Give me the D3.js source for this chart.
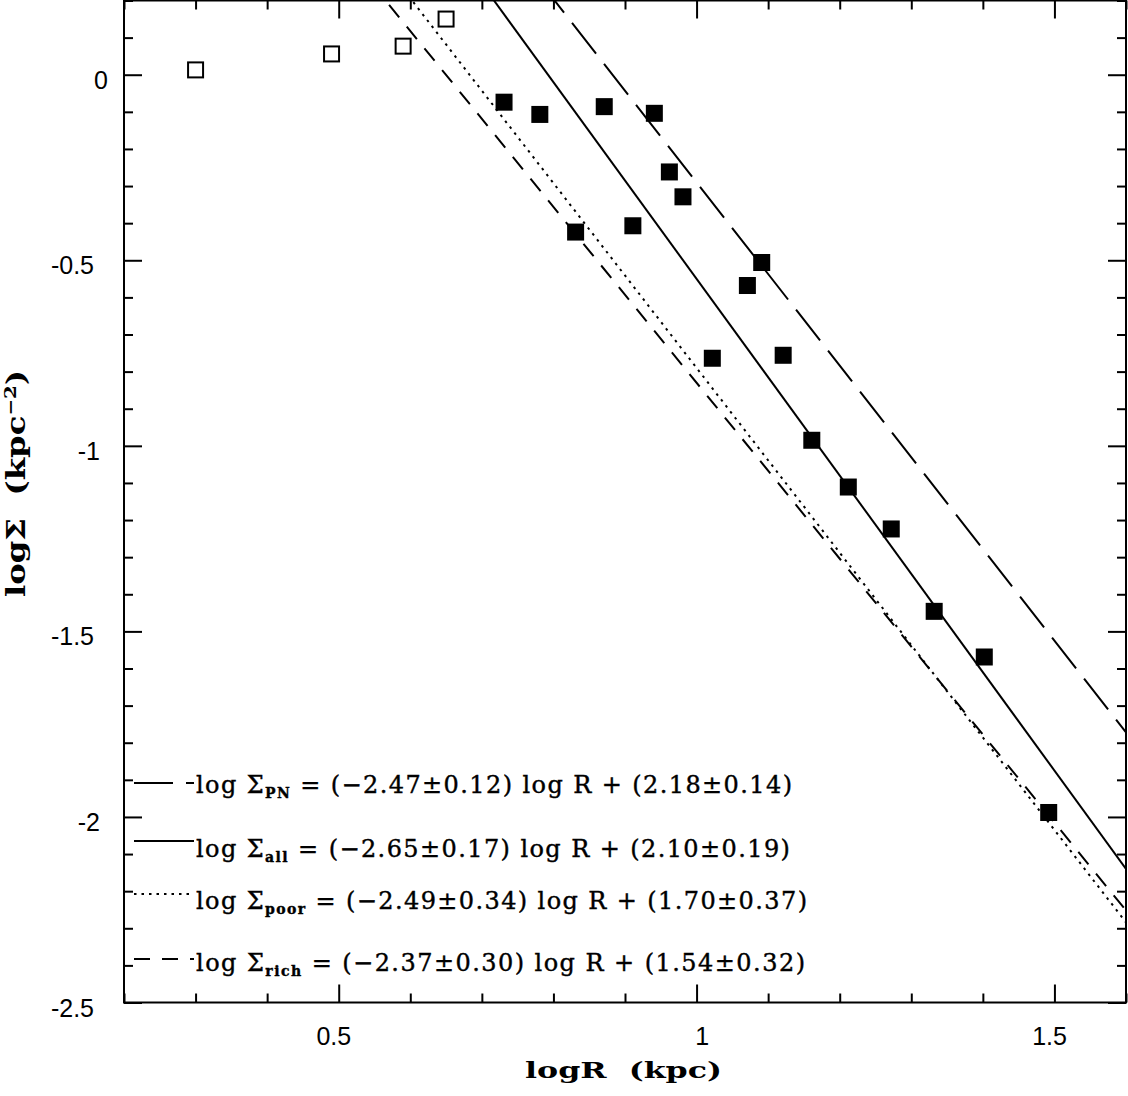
<!DOCTYPE html>
<html lang="en">
<head>
    <meta charset="UTF-8">
    <title>logΣ vs logR</title>
    <script src="https://d3js.org/d3.v7.min.js"></script>
    <style>
        body { margin: 0; background: #fff; }
        .axis text { font-family: "Liberation Sans", Arial, sans-serif; font-size: 25px; fill: #000; }
        .axis line { stroke: #000; stroke-width: 2; }
        .axis path { display: none; }
        .frame { fill: none; stroke: #000; stroke-width: 2; }
        .fit { fill: none; stroke: #000; stroke-width: 2; }
        .legend text { font-family: "DejaVu Serif", serif; font-size: 24px; fill: #000; stroke: #000; stroke-width: 0.4; }
        .title { font-family: "DejaVu Serif", serif; font-weight: bold; fill: #000; }
    </style>
</head>
<body>
    <div id="chart"></div>
    <script>
        // open squares (inner points)
        const openLogR = [0.30, 0.49, 0.59, 0.65];
        const openLogS = [0.013, 0.056, 0.077, 0.150];

        // filled squares
        const fillLogR = [0.731, 0.781, 0.871, 0.941, 0.962, 0.981, 0.831, 0.911, 1.091,
                          1.071, 1.022, 1.121, 1.161, 1.212, 1.272, 1.332, 1.402, 1.492];
        const fillLogS = [-0.074, -0.107, -0.086, -0.104, -0.262, -0.329, -0.424, -0.407, -0.506,
                          -0.568, -0.764, -0.756, -0.985, -1.111, -1.224, -1.446, -1.569, -1.988];

        // power-law fits: log S = slope * log R + zero
        const fitNames = ["PN", "all", "poor", "rich"];
        const fitSlope = [-2.47, -2.65, -2.49, -2.37];
        const fitSlopeErr = ["0.12", "0.17", "0.34", "0.30"];
        const fitZero = [2.18, 2.10, 1.70, 1.54];
        const fitZeroErr = ["0.14", "0.19", "0.37", "0.32"];

        const xMajor = [0.5, 1, 1.5];
        const yMajor = [0, -0.5, -1, -1.5, -2, -2.5];

        const dashes = ["39 13", null, "2.5 5", "16 12"];

        const margin = {top: 0.5, right: 2, bottom: 93.5, left: 124};
        const width = 1128 - margin.left - margin.right;
        const height = 1096 - margin.top - margin.bottom;

        const svg = d3.select("#chart")
            .append("svg")
            .attr("width", 1128)
            .attr("height", 1096);

        const g = svg.append("g")
            .attr("transform", `translate(${margin.left},${margin.top})`);

        const x = d3.scaleLinear().domain([0.2, 1.6]).range([0, width]);
        const y = d3.scaleLinear().domain([-2.5, 0.2]).range([height, 0]);

        const xMinor = x.ticks(14).filter(d => !xMajor.some(m => Math.abs(m - d) < 1e-6));
        const yMinor = y.ticks(27).filter(d => !yMajor.some(m => Math.abs(m - d) < 1e-6));

        g.append("clipPath").attr("id", "clip")
            .append("rect").attr("width", width).attr("height", height);

        // ticks, all pointing inward
        const majorLen = 18, minorLen = 9;
        g.append("g").attr("class", "axis").attr("transform", `translate(0,${height})`)
            .call(d3.axisBottom(x).tickValues(xMinor).tickSize(-minorLen).tickFormat(""));
        g.append("g").attr("class", "axis").attr("transform", `translate(0,${height})`)
            .call(d3.axisBottom(x).tickValues(xMajor).tickSize(-majorLen).tickFormat(d => String(d)))
            .call(a => a.selectAll("text").attr("y", 42.5).attr("dy", 0)
                .attr("x", 12).attr("text-anchor", "end"));
        g.append("g").attr("class", "axis")
            .call(d3.axisTop(x).tickValues(xMinor).tickSize(-minorLen).tickFormat(""));
        g.append("g").attr("class", "axis")
            .call(d3.axisTop(x).tickValues(xMajor).tickSize(-majorLen).tickFormat(""));

        g.append("g").attr("class", "axis")
            .call(d3.axisLeft(y).tickValues(yMinor).tickSize(-minorLen).tickFormat(""));
        g.append("g").attr("class", "axis")
            .call(d3.axisLeft(y).tickValues(yMajor).tickSize(-majorLen).tickFormat(d => String(d)))
            .call(a => a.selectAll("text")
                .attr("x", d => d === 0 ? -16 : (Number.isInteger(d) ? -24 : -30))
                .attr("y", 13.5).attr("dy", 0));
        g.append("g").attr("class", "axis").attr("transform", `translate(${width},0)`)
            .call(d3.axisRight(y).tickValues(yMinor).tickSize(-minorLen).tickFormat(""));
        g.append("g").attr("class", "axis").attr("transform", `translate(${width},0)`)
            .call(d3.axisRight(y).tickValues(yMajor).tickSize(-majorLen).tickFormat(""));

        g.append("rect").attr("class", "frame").attr("width", width).attr("height", height);

        // fit lines
        const line = d3.line().x(d => x(d[0])).y(d => y(d[1]));
        const fits = fitNames.map((name, i) => ({
            name, i,
            pts: x.domain().map(r => [r, fitSlope[i] * r + fitZero[i]])
        }));
        g.append("g").attr("clip-path", "url(#clip)")
            .selectAll("path")
            .data(fits)
            .enter()
            .append("path")
            .attr("class", "fit")
            .attr("d", d => line(d.pts))
            .attr("stroke-dasharray", d => dashes[d.i]);

        // points
        const size = 17;
        g.selectAll(".open")
            .data(openLogR.map((r, i) => [r, openLogS[i]]))
            .enter()
            .append("rect")
            .attr("class", "open")
            .attr("x", d => x(d[0]) - (size - 2) / 2)
            .attr("y", d => y(d[1]) - (size - 2) / 2)
            .attr("width", size - 2)
            .attr("height", size - 2)
            .attr("fill", "none")
            .attr("stroke", "#000")
            .attr("stroke-width", 2);

        g.selectAll(".filled")
            .data(fillLogR.map((r, i) => [r, fillLogS[i]]))
            .enter()
            .append("rect")
            .attr("class", "filled")
            .attr("x", d => x(d[0]) - size / 2)
            .attr("y", d => y(d[1]) - size / 2)
            .attr("width", size)
            .attr("height", size)
            .attr("fill", "#000");

        // legend
        const legendLineY = [783, 841, 894, 959];
        const legendBase = [793, 857, 909, 971];
        const legendLen = [596, 594, 611, 609];
        const legend = svg.append("g").attr("class", "legend");
        fits.forEach(f => {
            legend.append("line")
                .attr("x1", 134).attr("x2", 194)
                .attr("y1", legendLineY[f.i]).attr("y2", legendLineY[f.i])
                .attr("stroke", "#000").attr("stroke-width", 2)
                .attr("stroke-dasharray", dashes[f.i]);
            const t = legend.append("text")
                .attr("x", 196).attr("y", legendBase[f.i])
                .attr("textLength", legendLen[f.i])
                .attr("lengthAdjust", "spacing");
            t.append("tspan").text("log Σ");
            t.append("tspan").attr("dy", 5).attr("font-size", 14).attr("font-weight", "bold").text(f.name);
            t.append("tspan").attr("dy", -5)
                .text(` = (−${Math.abs(fitSlope[f.i]).toFixed(2)}±${fitSlopeErr[f.i]}) log R + (${fitZero[f.i].toFixed(2)}±${fitZeroErr[f.i]})`);
        });

        // axis titles
        svg.append("text")
            .attr("class", "title")
            .attr("x", 525).attr("y", 1078)
            .attr("font-size", 22)
            .attr("textLength", 197)
            .attr("lengthAdjust", "spacingAndGlyphs")
            .style("white-space", "pre")
            .text("logR  (kpc)");

        const yt = svg.append("text")
            .attr("class", "title")
            .attr("transform", "translate(25,597) rotate(-90)")
            .attr("font-size", 26)
            .attr("textLength", 227)
            .attr("lengthAdjust", "spacingAndGlyphs")
            .style("white-space", "pre");
        yt.append("tspan").text("logΣ  (kpc");
        yt.append("tspan").attr("dy", -9).attr("font-size", 16).text("−2");
        yt.append("tspan").attr("dy", 9).text(")");
    </script>
</body>
</html>
